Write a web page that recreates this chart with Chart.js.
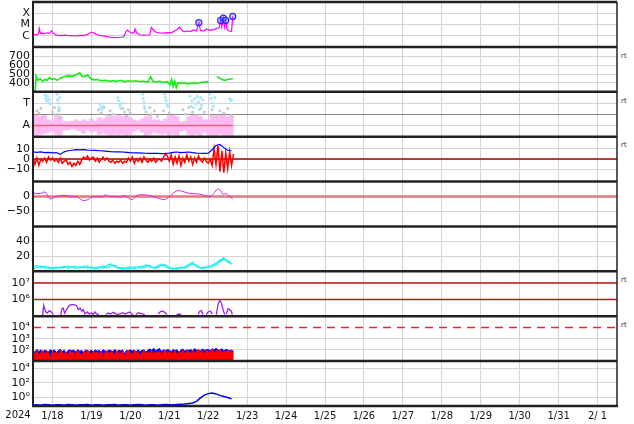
<!DOCTYPE html>
<html><head><meta charset="utf-8">
<script src="https://cdn.jsdelivr.net/npm/chart.js@4/dist/chart.umd.min.js"></script>
<style>html,body{margin:0;padding:0;background:#fff}#wrap{width:634px;height:424px;position:relative}</style>
</head><body><div id="wrap"><canvas id="c"></canvas></div>
<script>
// ---------- x axis (days since 2024-01-18 00:00) ----------
const yearLabel = '2024';
const dayLabels = ['1/18','1/19','1/20','1/21','1/22','1/23','1/24','1/25','1/26','1/27','1/28','1/29','1/30','1/31','2/ 1',''];
const dayTicks = [0,1,2,3,4,5,6,7,8,9,10,11,12,13,14,15];
const stepFine = 0.05, stepCoarse = 0.1;

// ---------- panel 1: X-ray flux ----------
const xrayTickVals = [1e-6,1e-5,1e-4];
const xrayTickLabels = ['C','M','X'];
const xrT = [0,0.08,0.14,0.16,0.19,0.25,0.3,0.36,0.42,0.48,0.52,0.58,0.66,0.74,0.82,0.9,1.0,1.1,1.2,1.3,1.4,1.5,1.58,1.66,1.74,1.85,1.97,2.05,2.15,2.25,2.33,2.38,2.42,2.48,2.55,2.6,2.62,2.66,2.74,2.82,2.92,3.0,3.04,3.08,3.16,3.25,3.35,3.45,3.55,3.62,3.7,3.77,3.82,3.88,3.95,4.05,4.12,4.2,4.26,4.3,4.38,4.46,4.55,4.65,4.72,4.78,4.82,4.85,4.89,4.92,4.95,4.98,5.03,5.1,5.13];
const xrF = [1.3e-6,1.2e-6,1.4e-6,4.5e-6,1.6e-6,1.7e-6,1.5e-6,1.8e-6,1.6e-6,2.6e-6,1.7e-6,1.2e-6,1.05e-6,1e-6,1.1e-6,1e-6,1e-6,9.5e-7,1.05e-6,1e-6,1.3e-6,2.1e-6,1.6e-6,1.2e-6,1e-6,9e-7,7.5e-7,7e-7,6.5e-7,7.2e-7,8e-7,2e-6,3e-6,2.2e-6,1.6e-6,2e-6,4e-6,1.8e-6,1.2e-6,1.1e-6,1.15e-6,1.2e-6,5.5e-6,3.5e-6,2e-6,1.8e-6,1.7e-6,1.9e-6,1.8e-6,2.4e-6,3.5e-6,5.9e-6,3e-6,2.2e-6,2.6e-6,2.4e-6,3.2e-6,2.6e-6,1.45e-5,3e-6,2.5e-6,4e-6,3e-6,3.5e-6,4.5e-6,5e-6,2.3e-5,6e-6,3.7e-5,6e-6,2.3e-5,4e-6,2.6e-6,2.4e-6,5.2e-5];
const flareT = [4.26,4.82,4.89,4.95,5.13];
const flareF = [1.45e-5,2.3e-5,3.7e-5,2.3e-5,5.2e-5];

// ---------- panel 2: solar wind speed ----------
const speedTickVals = [400,500,600,700];
const speedTickLabels = ['400','500','600','700'];
const spdT = [0,0.03,0.06,0.08,0.1,0.13,0.18,0.25,0.3,0.36,0.42,0.48,0.55,0.62,0.7,0.8,0.9,1.0,1.1,1.2,1.25,1.3,1.4,1.48,1.55,1.65,1.75,1.85,1.95,2.05,2.15,2.25,2.35,2.45,2.55,2.65,2.75,2.85,2.95,3.02,3.08,3.15,3.25,3.35,3.45,3.52,3.56,3.6,3.64,3.68,3.72,3.8,3.9,4.0,4.1,4.2,4.3,4.4,4.5,4.6,4.72,4.78,4.85,4.92,5.0,5.08,5.13];
const spdV = [310,290,330,480,480,430,450,420,440,430,460,440,450,430,455,470,480,475,490,515,480,470,490,450,435,440,425,430,420,425,420,430,415,425,420,425,415,420,410,470,420,410,420,405,415,380,440,360,420,350,400,395,400,390,400,395,405,410,415,null,470,460,440,430,440,445,450];

// ---------- panel 3: sector (T / A) ----------
const sectorTickVals = [-1,0,1];
const sectorTickLabels = ['A','','T'];
const sectorLo = [-1.8,-1.9,-1.8,-1.7,-1.6,-1.5,-1.8,-1.9,-1.4,-1.4,-1.3,-1.4,-1.5,-1.7,-1.4,-1.6,-1.5,-1.8,-1.7,-1.8,-1.9,-1.8,-1.9,-1.8,-1.9,-1.8,-1.5,-1.4,-1.6,-1.9,-1.8,-1.6,-1.7,-1.8,-1.7,-1.9,-1.8,-1.9,-1.5,-1.4,-1.8,-1.9,-1.8,-1.9,-1.6,-1.8,-1.9,-1.9,-1.8,-1.9,-2.0,-1.9];
const sectorHi = [-0.1,-0.1,-0.2,-0.1,-0.5,-0.6,-0.1,-0.2,-0.6,-0.7,-0.6,-0.5,-0.6,-0.5,-0.6,-0.4,-0.6,-0.3,-0.4,-0.3,-0.1,-0.2,-0.1,-0.2,-0.1,-0.3,-0.5,-0.6,-0.4,-0.2,-0.1,-0.5,-0.5,-0.6,-0.4,-0.1,-0.1,-0.2,-0.7,-0.6,-0.2,-0.1,-0.1,-0.2,-0.5,-0.5,-0.1,-0.2,-0.1,-0.1,-0.2,-0.1];
const towardT = [0.31,0.33,0.35,0.38,0.4,0.42,0.44,0.62,0.63,0.65,0.66,0.68,0.69,1.72,1.74,1.77,1.8,2.18,2.2,2.23,2.25,2.28,2.82,2.83,2.85,2.86,2.87,3.38,3.4,3.42,3.44,3.46,4.03,4.05,4.08,4.12,4.15,4.18,4.22,4.25,4.28,4.3,4.33,4.36,4.54,4.57,4.6,4.63,4.67,5.05,5.08,5.1];
const towardV = [1.7,1.4,1.2,1.6,1.0,1.3,0.9,1.8,1.3,1.0,0.6,0.4,1.5,0.9,0.6,0.4,0.7,1.5,1.2,0.8,0.5,1.0,1.8,1.4,1.1,0.7,0.5,1.8,1.5,1.2,0.9,0.7,1.6,0.7,1.2,0.6,1.4,0.9,1.6,1.1,0.4,1.5,0.8,1.3,1.8,1.4,1.0,0.7,1.5,1.4,1.2,1.3];
const mixedT = [0.1,0.15,0.2,0.25,0.5,0.55,0.6,0.66,0.7,1.68,1.75,1.82,1.9,1.98,2.05,2.3,2.35,2.4,2.45,2.5,2.9,3.0,3.05,3.12,3.2,3.35,3.5,3.85,3.92,4.0,4.1,4.2,4.3,4.4,4.5,4.6,4.7,4.8,4.9,5.0,5.1];
const mixedV = [0.3,0.1,0.5,-0.2,0.2,0.6,0.0,0.3,-0.3,0.4,0.1,0.6,-0.1,0.3,0.0,0.5,0.2,-0.2,0.4,0.1,0.2,0.6,0.0,0.3,-0.2,0.3,0.1,0.4,0.0,0.6,0.2,-0.1,0.5,0.2,0.0,0.4,-0.2,0.3,0.1,0.5,-0.1];
const awayRefT = [0,5.13], awayRefV = [-1,-1];

// ---------- panel 4: Bt / Bz ----------
const fieldTickVals = [-10,0,10];
const fieldTickLabels = ['\u221210','0','10'];
const bt = [7,6.5,7,6.2,6.5,6,6.3,4.5,7,8,8.5,9,8.8,9,8.7,8.5,8.3,8,7.8,7.5,7.2,7,7,6.8,6.5,6.2,6,6,5.8,5.6,5.5,5.5,5.6,5.3,5.5,5.8,6.5,6.8,6.2,6.5,6.8,6.2,5.8,5.6,5.5,5.7,9,13,14,11,8.5,8];
const bz = [2,-5,1,-6,0,-2,1,-3,2,-1, 1,-2,0,-3,1,-4,-2,-1,-5,-3, -7,-4,-6,-2,-5,-1,2,0,3,-1, 1,2,-2,1,-3,0,2,-1,1,-2, -3,-1,-4,-2,-3,-1,-4,-2,-3,1, -2,2,-4,0,-2,1,-3,2,-1,-3, 0,-2,1,-3,-1,0,-2,2,5,3, -2,4,-5,2,-4,3,-6,1,-3,4, -2,2,-5,1,-3,3,-1,-3,1,-2, -4,0,-6,10,-5,13,-12,8,-13,6, -9,7,-6,5];

// ---------- panel 5: phi ----------
const phiTickVals = [-50,0];
const phiTickLabels = ['\u221250','0'];
const phiT = [0,0.18,0.31,0.44,0.56,0.69,0.87,1.0,1.13,1.28,1.38,1.54,1.79,1.85,1.97,2.15,2.23,2.36,2.54,2.67,2.79,2.92,3.08,3.2,3.38,3.51,3.69,3.82,4.03,4.28,4.54,4.64,4.74,4.82,4.87,4.95,5.0,5.13];
const phiV = [11,10,15,-8,-2,3,3,-1,-1,-13,-12,-1,-1,6,0,0,-3,3,-11,4,6,5,0,-5,-10,0,19,18,10,8,0,10,25,20,8,10,5,-8];

// ---------- panel 6: density ----------
const densTickVals = [20,40];
const densTickLabels = ['20','40'];
const densA = [6,8,5,7,4,5,4,6,5,7,5,4,6,5,7,4,5,6,4,8,10,6,4,5,3,4,6,5,4,9,6,5,7,10,6,4,3,5,4,6,9,12,6,5,4,6,8,11,15,18,12,11];
const densB = [4,5,7,4,6,3,6,4,7,4,6,7,4,7,4,6,3,5,7,5,7,8,5,3,5,6,3,6,7,6,8,4,5,8,9,5,4,3,6,4,7,10,8,4,6,5,7,9,13,16,15,9];

// ---------- panel 7: electrons ----------
const elecTickVals = [1e6,1e7];
const elecTickLabels = ['10\u2076','10\u2077'];
const elecLevels = [1e7,1e6];
const elecT = [0.248,0.274,0.316,0.367,0.419,0.47,0.521,0.6,0.709,0.744,0.778,0.812,0.863,0.932,0.991,1.051,1.12,1.162,1.205,1.256,1.291,1.333,1.393,1.444,1.504,1.547,1.59,1.632,1.692,1.78,1.872,1.932,1.991,2.06,2.111,2.162,2.231,2.299,2.359,2.419,2.487,2.538,2.573,2.61,2.641,2.701,2.761,2.829,2.872,3.0,3.214,3.274,3.342,3.402,3.444,3.55,3.684,3.744,3.812,4.0,4.239,4.282,4.325,4.368,4.41,4.453,4.496,4.556,4.607,4.65,4.709,4.752,4.795,4.838,4.88,4.923,4.945,4.966,5.009,5.051,5.094,5.12];
const elecV = [1.13e5,4.5e5,2e5,1.55e5,2.16e5,1.8e5,1.26e5,null,1.13e5,2.86e5,3.1e5,1.55e5,2.5e5,4.5e5,5e5,5e5,4.3e5,2.5e5,3.1e5,2e5,2.5e5,1.36e5,1.8e5,1.36e5,1.55e5,1.26e5,1.8e5,1.36e5,1.26e5,null,1.26e5,1.55e5,1.36e5,1.72e5,1.5e5,1.26e5,1.36e5,1.64e5,1.36e5,1.55e5,1.8e5,1.36e5,1.26e5,null,1.26e5,1.64e5,1.5e5,1.36e5,1.26e5,null,1.36e5,1.88e5,2e5,1.55e5,1.26e5,null,1.26e5,1.36e5,1.26e5,null,1.26e5,2e5,2.16e5,1.26e5,null,1.26e5,1.8e5,2e5,1.36e5,null,1.26e5,5e5,9.5e5,6.3e5,2.5e5,1.26e5,null,1.36e5,2.86e5,2.5e5,2e5,1.26e5];

// ---------- panel 8: protons ----------
const protTickVals = [1e2,1e3,1e4];
const protTickLabels = ['10\u00b2','10\u00b3','10\u2074'];
const protLevel = 1e4;
const protRed = [70,45,85,30,60,90,40,75,55,20, 80,50,65,35,90,60,45,70,25,80, 55,60,40,85,50,30,70,45,95,60, 35,75,50,65,40,80,20,60,90,45, 70,55,35,85,60,45,75,30,65,90, 50,40,80,55,70,25,60,85,45,65, 50,95,40,70,55,80,35,65,90,50, 75,45,60,85,30,70,55,95,40,80, 65,50,90,45,75,110,55,85,40,100, 70,60,120,50,90,75,105,45,85,60, 95,70,80,55];
const protBlue = [90,60,110,70,100,50,95,80,65,105, 75,100,55,90,110,70,95,40,85,100, 80,95,60,105,75,90,50,100,85,70, 95,60,100,75,90,55,105,80,65,100, 85,70,110,60,95,80,100,45,90,75, 100,80,95,65,105,70,90,100,60,95, 120,90,140,80,110,130,70,100,85,105, 95,70,110,85,100,60,95,120,75,100, 90,110,75,130,95,100,80,120,90,105, 110,85,130,95,140,100,90,125,80,110, 100,85,95,75];

// ---------- panel 9 ----------
const neutTickVals = [1,1e2,1e4];
const neutTickLabels = ['10\u2070','10\u00b2','10\u2074'];
const neut = [0.09,0.1,0.09,0.11,0.1,0.09,0.1,0.1,0.09,0.11,0.1,0.09,0.1,0.1,0.11,0.09,0.1,0.1,0.09,0.1,0.1,0.11,0.09,0.1,0.1,0.09,0.1,0.11,0.1,0.09,0.1,0.1,0.09,0.1,0.11,0.1,0.1,0.11,0.12,0.13,0.15,0.18,0.3,0.9,2.2,3.5,4.2,3.2,2,1.4,1.0,0.7];

const refFullT = [0,15];
const rtPanels = ['ySpeed','ySector','yField','yElec','yProt'];

// ---------- helpers ----------
const pts = (ts, vs) => ts.map((t,i)=>({x:t, y:vs[i]}));
const reg = (step, vs) => vs.map((v,i)=>({x:+(i*step).toFixed(3), y:v}));
function ln(yID, data, color, width, extra){
  return Object.assign({type:'line', xAxisID:'x', yAxisID:yID, data, borderColor:color, backgroundColor:color,
    borderWidth:width, pointRadius:0, tension:0, spanGaps:false, fill:false, order:1}, extra||{});
}
const XFONT = {family:'DejaVu Sans', size:10};
const YFONT = {family:'DejaVu Sans', size:11};
const panelIds = ['yXray','ySpeed','ySector','yField','yPhi','yDens','yElec','yProt','yNeut'];
function noPad(s){ s.paddingTop = 0; s.paddingBottom = 0; s.paddingLeft = 0; s.paddingRight = 0; }
function yAxis(i, type, min, max, vals, labels, gridColorFn){
  return {
    type, position:'left', stack:'panels', stackWeight:1, weight: 20 - i, offset:false, min, max,
    border:{display:false},
    grid:{color: gridColorFn || '#d4d4d4', lineWidth:1, drawTicks:false},
    ticks:{font:YFONT, color:'#111', padding:3, autoSkip:false,
      callback:(v)=>{const k=vals.indexOf(v); return k<0?'':labels[k];}},
    afterBuildTicks:(s)=>{ s.ticks = vals.map(v=>({value:v})); },
    afterFit:(s)=>{ s.width = 33; noPad(s); }
  };
}

const decor = {
  id:'decor',
  beforeDatasetDraw(chart, args){
    const ys = args.meta.yScale, a = chart.chartArea, c = chart.ctx;
    c.save(); c.beginPath(); c.rect(a.left, ys.top, a.right - a.left, ys.bottom - ys.top); c.clip();
  },
  afterDatasetDraw(chart){ chart.ctx.restore(); },
  afterDraw(chart){
    const c = chart.ctx, a = chart.chartArea;
    c.save();
    c.strokeStyle = '#222';
    c.lineWidth = 2.5;
    panelIds.forEach(id => {
      const s = chart.scales[id];
      c.beginPath(); c.moveTo(a.left - 1, s.top); c.lineTo(a.right, s.top); c.stroke();
    });
    c.beginPath(); c.moveTo(a.left - 1, a.bottom); c.lineTo(a.right + 1, a.bottom); c.stroke();
    c.lineWidth = 2;
    c.beginPath(); c.moveTo(a.left, a.top); c.lineTo(a.left, a.bottom); c.stroke();
    c.lineWidth = 1.5;
    c.beginPath(); c.moveTo(a.right, a.top); c.lineTo(a.right, a.bottom); c.stroke();
    c.fillStyle = '#333';
    c.font = '7px "DejaVu Sans"';
    c.textAlign = 'left'; c.textBaseline = 'middle';
    rtPanels.forEach(id => { const s = chart.scales[id]; c.fillText('rt', a.right + 4, s.top + 9); });
    const xs = chart.scales.x;
    c.fillStyle = '#111';
    c.font = '10px "DejaVu Sans"';
    c.textAlign = 'center'; c.textBaseline = 'top';
    c.fillText(yearLabel, a.left - 15, xs.top + 4);
    c.restore();
  }
};

const datasets = [
  // panel 1
  ln('yXray', pts(flareT, flareF), '#2a2aff', 1.2, {showLine:false, pointRadius:3, pointBorderColor:'#2a2aff', pointBackgroundColor:'rgba(120,120,255,0.35)', pointBorderWidth:1.2, order:0}),
  ln('yXray', pts(xrT, xrF), '#ff00ff', 1.2),
  // panel 2
  ln('ySpeed', pts(spdT, spdV), '#11ee11', 1.6),
  // panel 3
  ln('ySector', pts(awayRefT, awayRefV), '#ff5a78', 1.5, {order:0}),
  ln('ySector', pts(towardT, towardV), '#a6e6fa', 0, {showLine:false, pointRadius:1.5, pointBorderWidth:0, pointBackgroundColor:'#a6e6fa', order:2}),
  ln('ySector', pts(mixedT, mixedV), '#c8c8c8', 0, {showLine:false, pointRadius:1.5, pointBorderWidth:0, pointBackgroundColor:'#c8c8c8', order:2}),
  {type:'bar', xAxisID:'x', yAxisID:'ySector', data: sectorLo.map((lo,i)=>({x:+(i*stepCoarse).toFixed(3), y:[lo, sectorHi[i]]})),
    backgroundColor:'rgba(255,184,243,0.95)', borderWidth:0, barPercentage:1, categoryPercentage:1, order:3},
  // panel 4
  ln('yField', reg(stepCoarse, bt), '#0000ff', 1.2, {order:0}),
  ln('yField', reg(stepFine, bz), '#ff0000', 1.5, {order:1}),
  ln('yField', pts(refFullT, [0,0]), '#b00000', 1.5, {order:5}),
  // panel 5
  ln('yPhi', pts(phiT, phiV), '#e020e0', 1, {tension:0.3}),
  ln('yPhi', pts(refFullT, [0,0]), '#e07a7a', 2.5, {order:5}),
  // panel 6
  ln('yDens', reg(stepCoarse, densA), '#18f0f0', 1.2),
  ln('yDens', reg(stepCoarse, densB), '#18f0f0', 1.2),
  // panel 7
  ln('yElec', pts(elecT, elecV), '#a020e8', 1.3),
  ln('yElec', pts(refFullT, [elecLevels[0], elecLevels[0]]), '#c81010', 1.5, {order:5}),
  ln('yElec', pts(refFullT, [elecLevels[1], elecLevels[1]]), '#c81010', 1.5, {order:5}),
  // panel 8
  ln('yProt', reg(stepFine, protRed), '#ff0000', 1, {fill:'start', backgroundColor:'#ff0000', order:1}),
  ln('yProt', reg(stepFine, protBlue), '#0000ff', 1, {fill:'start', backgroundColor:'#0000ff', order:2}),
  ln('yProt', pts(refFullT, [protLevel, protLevel]), '#d83030', 1.5, {borderDash:[8,6], order:5}),
  // panel 9
  ln('yNeut', reg(stepCoarse, neut), '#0000ff', 1.5),
];

const scales = {
  x: {type:'linear', position:'bottom', min:0, max:15, offset:false,
    border:{display:false},
    grid:{color:'#d4d4d4', lineWidth:1, drawTicks:false},
    ticks:{font:XFONT, color:'#111', padding:4, autoSkip:false, maxRotation:0, labelOffset:19.5,
      callback:(v)=>{const k=dayTicks.indexOf(v); return k<0?'':dayLabels[k];}},
    afterBuildTicks:(s)=>{ s.ticks = dayTicks.map(v=>({value:v})); },
    afterFit:(s)=>{ noPad(s); s.height = 16; }
  },
  yXray: yAxis(0,'logarithmic',1e-7,1e-3,xrayTickVals,xrayTickLabels),
  ySpeed: yAxis(1,'linear',300,810,speedTickVals,speedTickLabels),
  ySector: yAxis(2,'linear',-2,2,sectorTickVals,sectorTickLabels, (ctx)=> ctx.tick && ctx.tick.value===0 ? '#8a8a8a' : '#d4d4d4'),
  yField: yAxis(3,'linear',-21.5,21.5,fieldTickVals,fieldTickLabels),
  yPhi: yAxis(4,'linear',-100,50,phiTickVals,phiTickLabels),
  yDens: yAxis(5,'linear',0,60,densTickVals,densTickLabels),
  yElec: yAxis(6,'logarithmic',1e5,5e7,elecTickVals,elecTickLabels),
  yProt: yAxis(7,'logarithmic',10,1e5,protTickVals,protTickLabels, (ctx)=> ctx.tick && ctx.tick.value===1e4 ? 'rgba(0,0,0,0)' : '#d4d4d4'),
  yNeut: yAxis(8,'logarithmic',0.07,1e5,neutTickVals,neutTickLabels),
};

new Chart(document.getElementById('c'), {
  type:'line',
  data:{datasets},
  options:{
    responsive:true, maintainAspectRatio:false, animation:false, devicePixelRatio:1, events:[],
    layout:{autoPadding:false, padding:{top:2, right:17, left:0, bottom:2}},
    plugins:{legend:{display:false}, tooltip:{enabled:false}, title:{display:false}},
    scales
  },
  plugins:[decor]
});
</script></body></html>
